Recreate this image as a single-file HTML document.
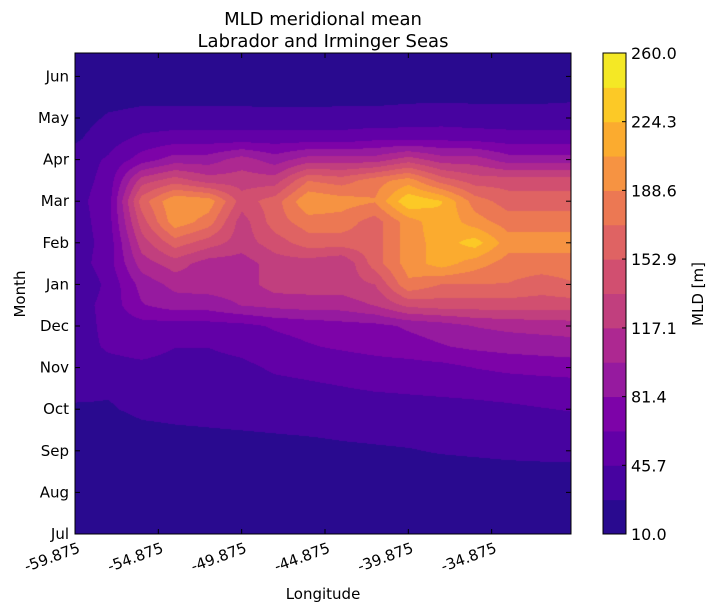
<!DOCTYPE html>
<html><head><meta charset="utf-8">
<style>
body{margin:0;background:#fff;width:714px;height:613px;overflow:hidden;font-family:"DejaVu Sans","Liberation Sans",sans-serif;}
#wrap{position:relative;width:714px;height:613px;}
canvas{position:absolute;left:75px;top:53px;}
svg{position:absolute;left:0;top:0;font-family:"DejaVu Sans","Liberation Sans",sans-serif;}
</style></head><body>
<div id="wrap">
<canvas id="cv" width="496" height="481"></canvas>
<svg id="sv" width="714" height="613"></svg>
</div>
<script>
const months=["Jul","Aug","Sep","Oct","Nov","Dec","Jan","Feb","Mar","Apr","May","Jun"];
const lonTicks=[-59.875,-54.875,-49.875,-44.875,-39.875,-34.875];
const levelLabels=["10.0","45.7","81.4","117.1","152.9","188.6","224.3","260.0"];
const lonGrid=[-59.875,-57.875,-55.875,-53.875,-51.875,-49.875,-47.875,-45.875,-43.875,-41.875,-39.875,-37.875,-35.875,-33.875,-31.875,-29.875];
const monthGrid=[0,0.5,1,1.5,2,2.5,3,3.5,4,4.5,5,5.5,6,6.5,7,7.5,8,8.5,9,9.5,10,10.5,11,11.5];
const r00=[15,15,15,15,15,15,15,15,15,15,15,15,15,15,15,15];
const r05=[16,16,16,16,16,16,16,16,16,16,16,16,16,16,16,16];
const r10=[18,18,18,18,18,18,18,18,18,18,18,18,18,18,18,18];
const r15=[20,20,20,20,20,20,20,20,20,21,22,22,23,24,24,24];
const r20=[15,15,17,18,20,21,22,23,25,26,27,29,30,31,32,32];
const r25=[20,18,24,26,27,28,29,30,31,32,33,34,35,36,37,38];
const r30=[25,26,32,33,34,35,36,37,38,39,40,41,42,43,45,47];
const r35=[34,30,36,38,38,39,41,43,45,47,48,49,50,52,54,55];
const r40=[36,40,42,40,40,42,48,50,52,55,56,58,64,68,70,72];
const r45=[38,48,52,46,46,50,56,62,66,70,74,80,85,88,90,92];
const r50=[34,52,56,56,56,58,66,70,74,76,84,90,100,104,106,108];
const r55=[37,52,80,90,90,100,105,108,108,118,140,144,144,144,144,144];
const r60=[30,50,88,105,108,108,126,126,126,135,185,170,170,170,162,170];
const r65=[37,55,108,126,108,108,126,126,117,162,197,215,197,180,180,180];
const r70=[37,52,126,162,144,126,144,162,162,162,197,215,233,197,197,197];
const r75=[37,55,144,200,180,126,162,180,180,162,197,220,197,180,180,180];
const r80=[40,55,162,205,200,144,162,205,197,190,240,225,180,162,162,162];
const r85=[37,52,126,144,126,126,126,170,162,180,197,162,144,144,144,144];
const r90=[37,48,72,90,90,108,90,108,108,108,126,108,108,90,90,90];
const r95=[25,38,50,55,55,55,55,55,55,60,60,60,58,55,55,55];
const r100=[20,30,33,33,33,33,33,33,33,33,34,36,34,34,34,34];
const r105=[18,22,24,24,24,24,23,23,24,24,25,25,25,25,25,26];
const r110=[19,19,19,19,19,19,19,19,19,19,20,20,21,22,22,22];
const r115=[18,18,18,18,18,18,18,18,18,18,18,18,18,18,18,18];
const mld=[r00,r05,r10,r15,r20,r25,r30,r35,r40,r45,r50,r55,r60,r65,r70,r75,r80,r85,r90,r95,r100,r105,r110,r115];
const vmin=10,vmax=260,nBands=14;
const colors=["#290a8f","#4703a0","#6200a7","#7d03a8","#961a9f","#ad2891","#c13f7e","#d14f70","#df6363","#ec7853","#f69342","#fbab2f","#fcc926","#f4e825"];

const PX=75,PY=53,PW=496,PH=481;
const lonMin=-59.875,lonMax=-59.875+PW/83.33*5;
const mMin=0,mMax=PH/41.6;
const xScale=v=>PX+(v-lonMin)/(lonMax-lonMin)*PW;
const yScale=m=>PY+PH-(m-mMin)/(mMax-mMin)*PH;

function sample(lon,m){
  let fx=(lon-lonGrid[0])/(lonGrid[1]-lonGrid[0]);
  let fy=(m-monthGrid[0])/(monthGrid[1]-monthGrid[0]);
  fx=Math.max(0,Math.min(lonGrid.length-1.0001,fx));
  fy=Math.max(0,Math.min(monthGrid.length-1.0001,fy));
  const i=Math.floor(fx),j=Math.floor(fy),tx=fx-i,ty=fy-j;
  const a=mld[j][i],b=mld[j][i+1],c=mld[j+1][i],d=mld[j+1][i+1];
  return (a*(1-tx)+b*tx)*(1-ty)+(c*(1-tx)+d*tx)*ty;
}
function hex(h){return [parseInt(h.substr(1,2),16),parseInt(h.substr(3,2),16),parseInt(h.substr(5,2),16)];}
const rgb=colors.map(hex);
const cv=document.getElementById('cv'),ctx=cv.getContext('2d');
const img=ctx.createImageData(PW,PH);
for(let py=0;py<PH;py++){
  const m=mMin+(PH-py-0.5)/PH*(mMax-mMin);
  for(let px=0;px<PW;px++){
    const lon=lonMin+(px+0.5)/PW*(lonMax-lonMin);
    const v=sample(lon,m);
    let b=Math.floor((v-vmin)/(vmax-vmin)*nBands);
    b=Math.max(0,Math.min(nBands-1,b));
    const k=(py*PW+px)*4,c=rgb[b];
    img.data[k]=c[0];img.data[k+1]=c[1];img.data[k+2]=c[2];img.data[k+3]=255;
  }
}
ctx.putImageData(img,0,0);

const sv=document.getElementById('sv');
const NS="http://www.w3.org/2000/svg";
function el(t,attrs,txt){const e=document.createElementNS(NS,t);for(const k in attrs)e.setAttribute(k,attrs[k]);if(txt!==undefined)e.textContent=txt;sv.appendChild(e);return e;}
let e;
e=el('rect',{x:PX,y:PY,width:PW,height:PH,fill:'none',stroke:'#000','stroke-width':1});


months.forEach((mn,i)=>{
  const y=yScale(i);
  e=el('line',{x1:PX,x2:PX+5,y1:y,y2:y,stroke:'#000'});
  
  
  e=el('line',{x1:PX+PW-5,x2:PX+PW,y1:y,y2:y,stroke:'#000'});
  
  
  e=el('text',{x:PX-6,y:y+5,'text-anchor':'end','font-size':15,fill:'#000'},mn);
  
  
});
lonTicks.forEach(v=>{
  const x=xScale(v);
  e=el('line',{x1:x,x2:x,y1:PY+PH,y2:PY+PH-5,stroke:'#000'});
  
  
  e=el('line',{x1:x,x2:x,y1:PY,y2:PY+5,stroke:'#000'});
  
  
  e=el('text',{x:x+6,y:PY+PH+18,'text-anchor':'end','font-size':15,fill:'#000',transform:`rotate(-20 ${x+6} ${PY+PH+18})`},v.toFixed(3));
  
  
});
e=el('text',{x:323,y:25,'text-anchor':'middle','font-size':18},'MLD meridional mean');


e=el('text',{x:323,y:47,'text-anchor':'middle','font-size':18},'Labrador and Irminger Seas');


e=el('text',{x:323,y:599,'text-anchor':'middle','font-size':15},'Longitude');


e=el('text',{x:25,y:294,'text-anchor':'middle','font-size':15,transform:'rotate(-90 25 294)'},'Month');


// colorbar
const CX=603,CW=23;
const cbY=v=>PY+PH-(v-vmin)/(vmax-vmin)*PH;
for(let b=0;b<nBands;b++){
  const v0=vmin+b*(vmax-vmin)/nBands,v1=vmin+(b+1)*(vmax-vmin)/nBands;
  e=el('rect',{x:CX,y:cbY(v1),width:CW,height:cbY(v0)-cbY(v1)+0.5,fill:colors[b]});
  
  
}
e=el('rect',{x:CX,y:PY,width:CW,height:PH,fill:'none',stroke:'#000'});


levelLabels.forEach(l=>{
  const y=cbY(parseFloat(l));
  e=el('line',{x1:CX+CW-4,x2:CX+CW,y1:y,y2:y,stroke:'#000'});
  
  
  e=el('text',{x:CX+CW+5,y:y+6,'font-size':16},l);
  
  
});
e=el('text',{x:703,y:294,'text-anchor':'middle','font-size':15,transform:'rotate(-90 703 294)'},'MLD [m]');


</script>
</body></html>
